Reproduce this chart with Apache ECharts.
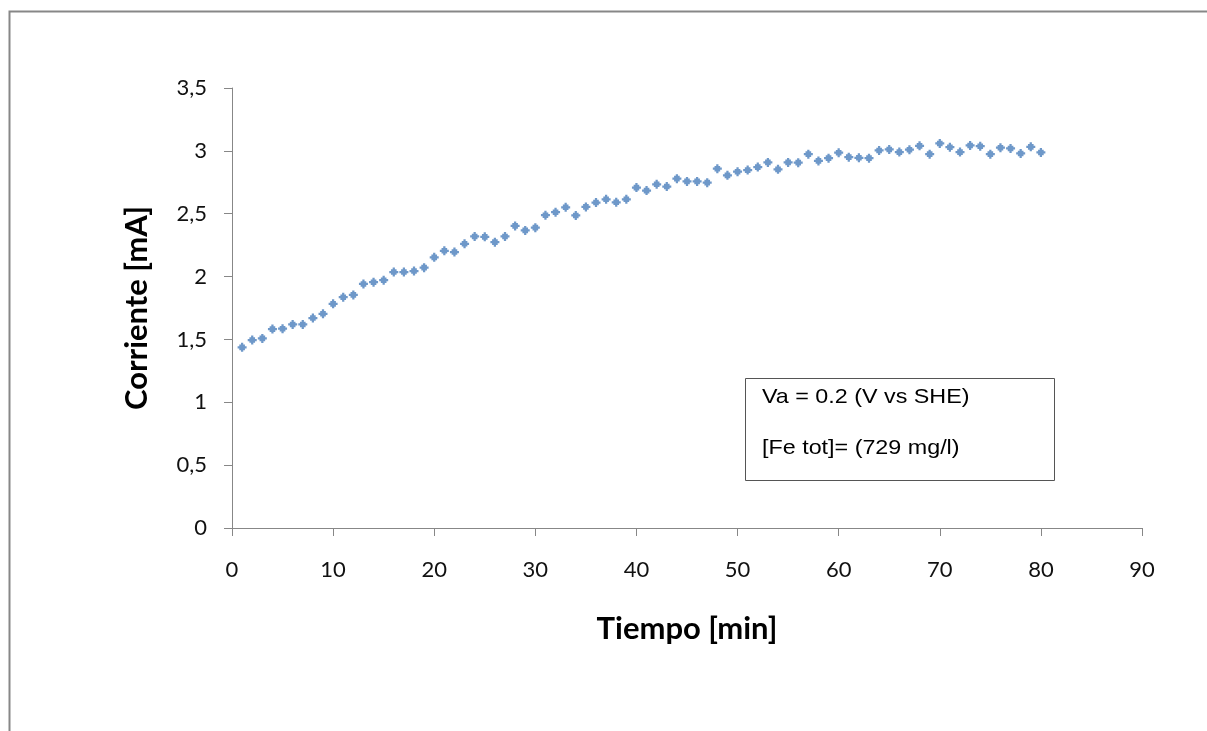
<!DOCTYPE html>
<html>
<head>
<meta charset="utf-8">
<script src="https://cdn.jsdelivr.net/npm/echarts@6/dist/echarts.min.js"></script>
<style>
html,body{margin:0;padding:0;background:#fff;}
#chart{width:1207px;height:731px;}
</style>
</head>
<body>
<div id="chart"></div>
<script>
var tiempo = [];
for (var i = 1; i <= 80; i++) tiempo.push(i);
var corriente = [
  1.437, 1.495, 1.508, 1.582, 1.585, 1.619, 1.619, 1.670, 1.704, 1.783,
  1.836, 1.854, 1.941, 1.955, 1.971, 2.036, 2.036, 2.044, 2.071, 2.153,
  2.205, 2.195, 2.261, 2.319, 2.316, 2.274, 2.319, 2.403, 2.367, 2.389,
  2.488, 2.512, 2.551, 2.486, 2.554, 2.589, 2.615, 2.591, 2.615, 2.708,
  2.684, 2.734, 2.716, 2.779, 2.757, 2.757, 2.747, 2.858, 2.805, 2.834,
  2.847, 2.871, 2.908, 2.853, 2.908, 2.906, 2.974, 2.920, 2.942, 2.985,
  2.950, 2.945, 2.942, 3.003, 3.011, 2.990, 3.009, 3.040, 2.974, 3.059,
  3.029, 2.990, 3.043, 3.037, 2.974, 3.025, 3.019, 2.979, 3.032, 2.987
];
var yTickLabels = {'0':'0','0.5':'0,5','1':'1','1.5':'1,5','2':'2','2.5':'2,5','3':'3','3.5':'3,5'};
var xTitle = 'Tiempo [min]';
var yTitle = 'Corriente [mA]';
var note1 = 'Va = 0.2 (V vs SHE)';
var note2 = '[Fe tot]= (729 mg/l)';

var pts = tiempo.map(function (t, k) { return [t, corriente[k]]; });
var chart = echarts.init(document.getElementById('chart'), null, {renderer: 'canvas'});
var axisGray = '#878787';
chart.setOption({
  animation: false,
  backgroundColor: '#fff',
  grid: {left: 232, right: 65, top: 88, bottom: 203},
  xAxis: {
    type: 'value', min: 0, max: 90, interval: 10,
    name: xTitle, nameLocation: 'middle', nameGap: 85,
    nameTextStyle: {fontFamily: 'Lato', fontWeight: 'bold', fontSize: 31, color: '#000'},
    axisLine: {show: true, lineStyle: {color: axisGray, width: 1}},
    axisTick: {show: true, inside: false, length: 8, lineStyle: {color: axisGray}},
    axisLabel: {fontFamily: 'Lato', fontSize: 22, color: '#111', margin: 31},
    splitLine: {show: false}
  },
  yAxis: {
    type: 'value', min: 0, max: 3.5, interval: 0.5,
    name: yTitle, nameLocation: 'middle', nameGap: 80, nameRotate: 90,
    nameTextStyle: {fontFamily: 'Lato', fontWeight: 'bold', fontSize: 31, color: '#000'},
    axisLine: {show: true, lineStyle: {color: axisGray, width: 1}},
    axisTick: {show: true, inside: false, length: 8, lineStyle: {color: axisGray}},
    axisLabel: {fontFamily: 'Lato', fontSize: 22, color: '#111', margin: 25,
      formatter: function (v) { var k = String(v); return yTickLabels[k] !== undefined ? yTickLabels[k] : k.replace('.', ','); }},
    splitLine: {show: false}
  },
  series: [{
    type: 'scatter',
    data: pts,
    symbol: 'path://M3,0H5V1.5H6.5V3H8V5H6.5V6.5H5V8H3V6.5H1.5V5H0V3H1.5V1.5H3Z',
    symbolSize: 9,
    itemStyle: {color: '#4a7ebb'}
  }],
  graphic: [
    {type: 'rect', left: 7, top: 9, silent: true, z: -1,
      shape: {x: 0, y: 0, width: 1300, height: 1000},
      style: {fill: 'none', stroke: '#878787', lineWidth: 2}},
    {type: 'rect', left: 745, top: 378, silent: true,
      shape: {x: 0, y: 0, width: 309, height: 102},
      style: {fill: '#fff', stroke: '#555', lineWidth: 1}},
    {type: 'text', x: 762, y: 387, scaleX: 1.11, silent: true,
      style: {text: note1, fontFamily: 'Liberation Sans, Arial', fontSize: 21, fill: '#000'}},
    {type: 'text', x: 762, y: 438, scaleX: 1.11, silent: true,
      style: {text: note2, fontFamily: 'Liberation Sans, Arial', fontSize: 21, fill: '#000'}}
  ]
});
</script>
</body>
</html>
